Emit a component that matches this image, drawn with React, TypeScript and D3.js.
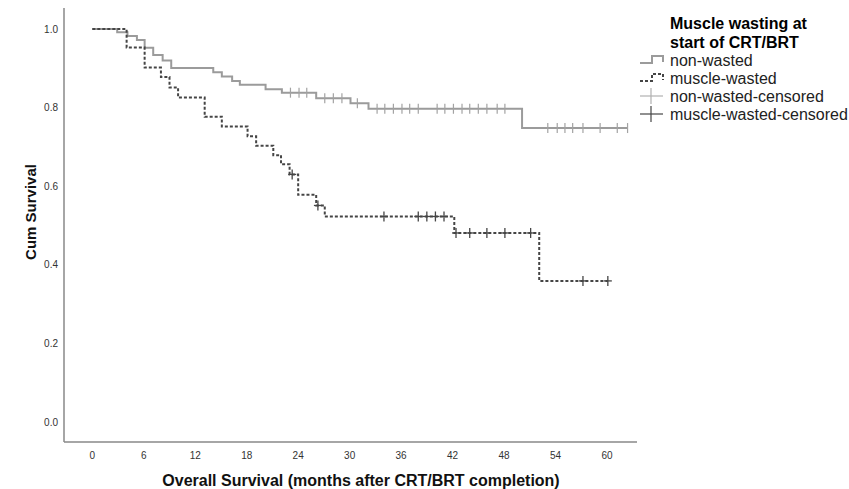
import React from "react";
import * as d3 from "d3";

// Kaplan-Meier steps (months, cumulative survival)
const nonWastedTimes = [0, 2.9, 4.1, 5.2, 6.1, 7.1, 8.2, 9.2, 14.1, 15.1, 16.3, 17.2, 20.2, 22.1, 26.1, 30.1, 32.2, 50.1, 62.4];
const nonWastedSurv = [1.0, 0.992, 0.982, 0.972, 0.952, 0.934, 0.92, 0.901, 0.89, 0.879, 0.868, 0.858, 0.847, 0.838, 0.824, 0.811, 0.797, 0.748, 0.748];
const nonWastedCensored = [
  23.1, 24.1, 25.0, 27.1, 28.1, 29.1, 30.9, 33.2, 34.1, 35.1, 36.1, 37.0, 38.0, 40.2, 41.1, 42.1, 43.1, 44.0,
  45.0, 46.0, 47.2, 48.1, 53.1, 54.2, 55.1, 56.0, 57.2, 59.2, 61.2, 62.4,
];

const wastedTimes = [0, 4.0, 6.1, 8.0, 9.0, 10.0, 13.1, 15.1, 18.1, 19.1, 21.1, 22.0, 23.0, 24.0, 26.1, 27.1, 42.2, 52.1, 60.1];
const wastedSurv = [1.0, 0.953, 0.902, 0.878, 0.851, 0.826, 0.777, 0.752, 0.727, 0.703, 0.679, 0.656, 0.63, 0.578, 0.551, 0.523, 0.481, 0.359, 0.359];
const wastedCensored = [23.3, 26.3, 34.0, 38.0, 39.0, 40.0, 41.0, 42.4, 44.0, 46.0, 48.1, 51.1, 57.2, 60.1];

const xTicks = [0, 6, 12, 18, 24, 30, 36, 42, 48, 54, 60];
const yTicks = [0, 0.2, 0.4, 0.6, 0.8, 1.0];

const legendTitle = ["Muscle wasting at", "start of CRT/BRT"];
const legendLabels = ["non-wasted", "muscle-wasted", "non-wasted-censored", "muscle-wasted-censored"];

const FONT = "'Liberation Sans', Arial, sans-serif";
const GRAY = "#9b9b9b";
const DARK = "#454545";

type Pt = { t: number; s: number };

const toPoints = (times: number[], surv: number[]): Pt[] => times.map((t, i) => ({ t, s: surv[i] }));

// survival at time t on a step curve
const survAt = (pts: Pt[], t: number) => {
  const i = d3.bisector((d: Pt) => d.t).right(pts, t) - 1;
  return pts[Math.max(0, i)].s;
};

export default function App() {
  const width = 849;
  const height = 489;

  const x = d3.scaleLinear().domain([-3.3, 63.5]).range([64, 637]);
  const y = d3.scaleLinear().domain([0, 1]).range([422, 29]);
  const axisTop = 8;
  const axisBottom = 442;

  const nonWasted = toPoints(nonWastedTimes, nonWastedSurv);
  const wasted = toPoints(wastedTimes, wastedSurv);

  const line = d3
    .line<Pt>()
    .x((d) => x(d.t))
    .y((d) => y(d.s))
    .curve(d3.curveStepAfter);

  const plus = (cx: number, cy: number, color: string, arm: number, key: string) => (
    <g key={key} stroke={color} strokeWidth={1.3}>
      <line x1={cx} x2={cx} y1={cy - 5} y2={cy + 5} />
      <line x1={cx - arm} x2={cx + arm} y1={cy} y2={cy} />
    </g>
  );

  const lx = 640;
  const rows = [60, 78, 96, 114];

  return (
    <svg
      width={width}
      height={height}
      style={{ position: "absolute", left: 0, top: 0, background: "#fff" }}
      fontFamily={FONT}
    >
      {/* axes */}
      <line x1={64} x2={64} y1={axisTop} y2={axisBottom} stroke="#888" strokeWidth={1.5} />
      <line x1={64} x2={637} y1={axisBottom} y2={axisBottom} stroke="#888" strokeWidth={1.5} />

      {yTicks.map((v) => (
        <text key={v} x={58} y={y(v)} dy="0.35em" textAnchor="end" fontSize={10} fill="#333">
          {v.toFixed(1)}
        </text>
      ))}
      {xTicks.map((v) => (
        <text key={v} x={x(v)} y={455} dy="0.35em" textAnchor="middle" fontSize={10} fill="#333">
          {v}
        </text>
      ))}

      <text x={361} y={480} dy="0.35em" textAnchor="middle" fontSize={16} fontWeight="bold" fill="#111">
        Overall Survival (months after CRT/BRT completion)
      </text>
      <text
        transform={`translate(31,212) rotate(-90)`}
        dy="0.35em"
        textAnchor="middle"
        fontSize={15}
        fontWeight="bold"
        fill="#111"
      >
        Cum Survival
      </text>

      {/* curves */}
      <path d={line(nonWasted) ?? ""} fill="none" stroke={GRAY} strokeWidth={2} />
      {nonWastedCensored.map((t, i) => (
        <line
          key={`nc${i}`}
          x1={x(t)}
          x2={x(t)}
          y1={y(survAt(nonWasted, t)) - 5}
          y2={y(survAt(nonWasted, t)) + 5}
          stroke="#a3a3a3"
          strokeWidth={1.2}
        />
      ))}
      <path d={line(wasted) ?? ""} fill="none" stroke={DARK} strokeWidth={2} strokeDasharray="3,2" />
      {wastedCensored.map((t, i) => plus(x(t), y(survAt(wasted, t)), DARK, 4, `wc${i}`))}

      {/* legend */}
      {legendTitle.map((s, i) => (
        <text key={s} x={670} y={23 + i * 19} dy="0.35em" fontSize={16} fontWeight="bold" fill="#000">
          {s}
        </text>
      ))}
      <path
        d={`M${lx},${rows[0] + 3}H${lx + 12}V${rows[0] - 4}H${lx + 23}V${rows[0] + 2}`}
        fill="none"
        stroke={GRAY}
        strokeWidth={2}
      />
      <path
        d={`M${lx},${rows[1] + 3}H${lx + 12}V${rows[1] - 4}H${lx + 23}V${rows[1] + 2}`}
        fill="none"
        stroke={DARK}
        strokeWidth={2}
        strokeDasharray="3,2"
      />
      <g stroke="#b0b0b0" strokeWidth={1.2}>
        <line x1={lx} x2={lx + 23} y1={rows[2]} y2={rows[2]} />
        <line x1={lx + 11} x2={lx + 11} y1={rows[2] - 8} y2={rows[2] + 8} />
      </g>
      <g stroke={DARK} strokeWidth={1.2}>
        <line x1={lx} x2={lx + 23} y1={rows[3]} y2={rows[3]} />
        <line x1={lx + 11} x2={lx + 11} y1={rows[3] - 8} y2={rows[3] + 8} />
      </g>
      {legendLabels.map((s, i) => (
        <text key={s} x={670} y={rows[i]} dy="0.35em" fontSize={16} fill="#222">
          {s}
        </text>
      ))}
    </svg>
  );
}
